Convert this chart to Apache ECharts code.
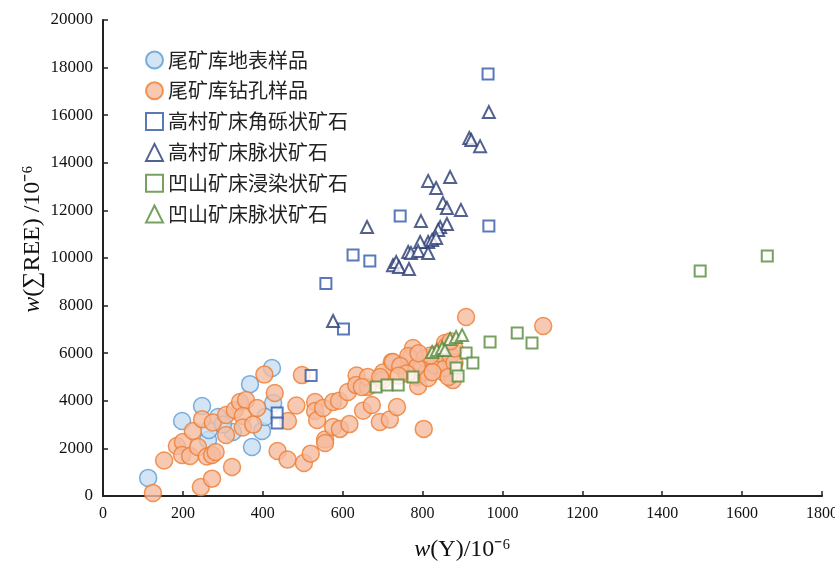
<!DOCTYPE html>
<html>
<head>
<meta charset="utf-8">
<script src="https://cdn.jsdelivr.net/npm/echarts@6/dist/echarts.min.js"></script>
<style>
  html, body { margin: 0; padding: 0; background: #fff; }
  #chart { width: 835px; height: 561px; }
</style>
</head>
<body>
<div id="chart"></div>
<script>
// [w(Y), w(∑REE)] pairs, 10^-6
const surfaceSamples = [
  [113, 760], [198, 3150], [248, 3780], [368, 4700], [423, 5380], [426, 3910],
  [373, 2060], [398, 2730], [406, 3320], [325, 2690], [263, 2350], [265, 2770],
  [288, 3320], [300, 3000]
]
const drillSamples = [
  [125, 130], [153, 1490], [245, 380], [273, 730], [323, 1220], [185, 2100],
  [200, 2270], [198, 1720], [218, 1680], [225, 2730], [238, 2060], [248, 3230],
  [275, 3090], [260, 1660], [273, 1720], [282, 1850], [308, 2560], [308, 3400],
  [330, 3610], [343, 3950], [358, 4030], [350, 3360], [350, 2880], [376, 3000],
  [386, 3700], [404, 5100], [430, 4330], [437, 1890], [462, 1530], [498, 5080],
  [484, 3800], [463, 3150], [503, 1390], [520, 1780], [531, 3950], [531, 3570],
  [536, 3190], [551, 3700], [556, 2370], [556, 2230], [576, 3950], [576, 2900],
  [593, 2820], [591, 4000], [613, 4370], [617, 3020], [635, 5060], [634, 4660],
  [651, 3580], [663, 4580], [663, 5000], [673, 3820], [693, 3110], [718, 3210],
  [736, 3740], [723, 5630], [748, 5500], [701, 5190], [699, 4870], [694, 5000],
  [776, 6220], [769, 5800], [786, 5000], [789, 4620], [803, 2820], [799, 5500],
  [811, 5210], [844, 5600], [851, 5210], [874, 5170], [806, 5800], [909, 7520],
  [1102, 7140], [856, 6430], [876, 4870], [726, 5630], [764, 5880], [744, 5460],
  [786, 5420], [814, 4960], [831, 5500], [856, 5380], [648, 4580], [840, 6000],
  [860, 6300], [870, 5900], [880, 5600], [825, 5200], [760, 5150], [740, 5050],
  [820, 5900], [790, 6000], [865, 5000], [880, 6200], [870, 6500]
]
const gaocunBreccia = [
  [964, 17730], [744, 11760], [966, 11340], [626, 10130], [668, 9870],
  [558, 8930], [602, 7020], [521, 5060], [436, 3490], [436, 3070]
]
const gaocunVein = [
  [966, 16130], [917, 15040], [922, 14960], [944, 14700], [814, 13240],
  [834, 12940], [869, 13400], [851, 12310], [861, 12100], [896, 12020],
  [844, 11300], [861, 11430], [839, 11180], [661, 11300], [796, 11550],
  [814, 10670], [824, 10760], [794, 10670], [834, 10840], [764, 10250],
  [771, 10210], [789, 10290], [814, 10210], [726, 9700], [734, 9830],
  [741, 9620], [766, 9540], [576, 7350]
]
const aoshanDisseminated = [
  [1495, 9450], [1663, 10080], [684, 4580], [711, 4660], [739, 4660],
  [776, 5000], [884, 5380], [889, 5040], [909, 6010], [926, 5590],
  [969, 6470], [1037, 6850], [1074, 6430]
]
const aoshanVein = [
  [824, 6050], [836, 6130], [849, 6220], [856, 6130], [869, 6600],
  [884, 6680], [899, 6760]
]
const seriesNames = [
  '尾矿库地表样品', '尾矿库钻孔样品', '高村矿床角砾状矿石',
  '高村矿床脉状矿石', '凹山矿床浸染状矿石', '凹山矿床脉状矿石'
]

const chart = echarts.init(document.getElementById('chart'))
const serif = '"Liberation Serif", "Times New Roman", serif'
const axisCommon = {
  axisLine: { lineStyle: { color: '#222', width: 2 } },
  axisTick: { inside: true, length: 5, lineStyle: { color: '#222', width: 1.5 } },
  splitLine: { show: false },
  nameMoveOverlap: false
}
const nameStyle = {
  fontSize: 24, color: '#111', fontFamily: serif,
  rich: { i: { fontSize: 24, fontStyle: 'italic', fontFamily: serif, color: '#111' } }
}
const hollow = (color, symbol, size) => ({
  type: 'scatter',
  symbol: symbol,
  symbolSize: size,
  itemStyle: { color: '#fff', borderColor: color, borderWidth: 2 }
})

chart.setOption({
  animation: false,
  grid: { left: 103, right: 13, top: 20, bottom: 65, containLabel: false, outerBoundsMode: 'none' },
  legend: {
    orient: 'vertical',
    left: 140,
    top: 45,
    itemWidth: 17,
    itemHeight: 17,
    itemGap: 10.8,
    textStyle: {
      fontSize: 20,
      lineHeight: 20,
      color: '#222',
      fontFamily: '"Noto Sans CJK SC", sans-serif'
    },
    data: seriesNames
  },
  xAxis: Object.assign({
    type: 'value',
    min: 0,
    max: 1800,
    interval: 200,
    name: '{i|w}(Y)/10⁻⁶',
    nameLocation: 'middle',
    nameGap: 42,
    nameTextStyle: nameStyle,
    axisLabel: { color: '#111', fontSize: 16, fontFamily: serif, margin: 10, formatter: v => String(v) }
  }, axisCommon),
  yAxis: Object.assign({
    type: 'value',
    min: 0,
    max: 20000,
    interval: 2000,
    name: '{i|w}(∑REE) /10⁻⁶',
    nameLocation: 'middle',
    nameRotate: 90,
    nameGap: 58,
    nameTextStyle: Object.assign({ padding: [0, 0, 0, 38] }, nameStyle),
    axisLabel: { color: '#111', fontSize: 17, fontFamily: serif, margin: 10, formatter: v => String(v) }
  }, axisCommon),
  series: [
    {
      name: seriesNames[0],
      type: 'scatter',
      symbol: 'circle',
      symbolSize: 17,
      itemStyle: { color: '#c8def2', borderColor: '#5b9bd5', borderWidth: 1.5 },
      data: surfaceSamples
    },
    {
      name: seriesNames[1],
      type: 'scatter',
      symbol: 'circle',
      symbolSize: 17,
      itemStyle: { color: '#f5bc9f', borderColor: '#ed7d31', borderWidth: 1.5 },
      data: drillSamples
    },
    Object.assign(hollow('#2f58a8', 'rect', 11), { name: seriesNames[2], data: gaocunBreccia }),
    Object.assign(hollow('#283a73', 'triangle', 12), { name: seriesNames[3], data: gaocunVein }),
    Object.assign(hollow('#558a38', 'rect', 11), { name: seriesNames[4], data: aoshanDisseminated }),
    Object.assign(hollow('#558a38', 'triangle', 12), { name: seriesNames[5], data: aoshanVein })
  ]
})
</script>
</body>
</html>
